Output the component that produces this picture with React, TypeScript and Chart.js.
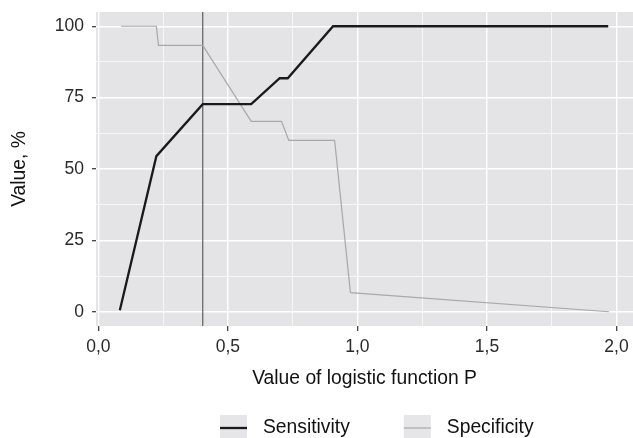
import React, { useEffect, useRef } from 'react';
import { Chart, registerables } from 'chart.js';

Chart.register(...registerables);

// ---- data ----
const sensitivityX = [0.083, 0.224, 0.403, 0.59, 0.7, 0.731, 0.906, 1.968];
const sensitivityY = [0.5, 54.5, 72.7, 72.7, 81.8, 81.8, 100, 100];
const specificityX = [0.088, 0.224, 0.232, 0.403, 0.59, 0.707, 0.735, 0.912, 0.973, 1.971];
const specificityY = [100, 100, 93.3, 93.3, 66.7, 66.7, 60, 60, 6.7, 0];
const cutoffP = 0.403;
const seriesLabels = ['Sensitivity', 'Specificity'];
const xTickLabels = ['0,0', '0,5', '1,0', '1,5', '2,0'];
const yTickLabels = ['0', '25', '50', '75', '100'];
const xTitle = 'Value of logistic function P';
const yTitle = 'Value, %';

const PANEL = '#e4e4e6';
const FONT = "'Liberation Sans', Arial, sans-serif";

const isMultiple = (v: number, step: number) => Math.abs(v / step - Math.round(v / step)) < 1e-6;

export default function App() {
  const ref = useRef<HTMLCanvasElement | null>(null);

  useEffect(() => {
    document.body.style.margin = '0';
    const canvas = ref.current!;
    const panelPlugin = {
      id: 'panel',
      beforeDraw(chart: any) {
        const { ctx, chartArea: a } = chart;
        ctx.save();
        ctx.fillStyle = PANEL;
        ctx.fillRect(a.left, a.top, a.right - a.left, a.bottom - a.top);
        ctx.restore();
      },
      beforeDatasetsDraw(chart: any) {
        const { ctx, chartArea: a, scales } = chart;
        const px = scales.x.getPixelForValue(cutoffP);
        ctx.save();
        ctx.strokeStyle = '#5e5e5e';
        ctx.lineWidth = 1.2;
        ctx.beginPath();
        ctx.moveTo(px, a.top);
        ctx.lineTo(px, a.bottom);
        ctx.stroke();
        ctx.restore();
      },
      afterDraw(chart: any) {
        const ctx = chart.ctx;
        const cy = 428;
        let x = 220;
        ctx.save();
        ctx.font = `19.3px ${FONT}`;
        ctx.textBaseline = 'middle';
        ctx.textAlign = 'left';
        chart.data.datasets.forEach((ds: any) => {
          ctx.fillStyle = '#e6e6e8';
          ctx.fillRect(x, cy - 13, 27, 26);
          ctx.strokeStyle = ds.borderColor;
          ctx.lineWidth = ds.borderWidth;
          ctx.beginPath();
          ctx.moveTo(x, cy);
          ctx.lineTo(x + 27, cy);
          ctx.stroke();
          ctx.fillStyle = '#111';
          ctx.fillText(ds.label, x + 43, cy);
          x += 43 + ctx.measureText(ds.label).width + 54;
        });
        ctx.restore();
      },
    };

    const chart = new Chart(canvas, {
      type: 'line',
      data: {
        datasets: [
          {
            label: seriesLabels[0],
            data: sensitivityX.map((x, i) => ({ x, y: sensitivityY[i] })),
            borderColor: '#1a1a1a',
            borderWidth: 2.3,
            pointRadius: 0,
            tension: 0,
          },
          {
            label: seriesLabels[1],
            data: specificityX.map((x, i) => ({ x, y: specificityY[i] })),
            borderColor: '#a8a8a8',
            borderWidth: 1.2,
            pointRadius: 0,
            tension: 0,
          },
        ],
      },
      options: {
        responsive: false,
        animation: false,
        devicePixelRatio: 1,
        layout: { padding: { top: 12, left: 0, right: 0, bottom: 0 } },
        plugins: { legend: { display: false }, tooltip: { enabled: false } },
        scales: {
          x: {
            type: 'linear',
            min: -0.009,
            max: 2.0636,
            border: { display: false },
            afterFit: (s: any) => {
              s.height = 112;
              s.paddingLeft = 0;
              s.paddingRight = 0;
            },
            grid: {
              color: '#ffffff',
              lineWidth: (c: any) => (isMultiple(c.tick.value, 0.5) ? 1.4 : 0.7),
              tickColor: (c: any) => (isMultiple(c.tick.value, 0.5) ? '#333333' : 'rgba(0,0,0,0)'),
              tickLength: 5,
              tickWidth: 1.2,
            },
            ticks: {
              stepSize: 0.25,
              includeBounds: false,
              autoSkip: false,
              maxRotation: 0,
              padding: 6,
              color: '#2a2a2a',
              font: { family: FONT, size: 17.5 },
              callback: (v: any) => {
                const n = Number(v);
                if (!isMultiple(n, 0.5)) return '';
                return xTickLabels[Math.round(n / 0.5)] ?? '';
              },
            },
            title: {
              display: true,
              text: xTitle,
              color: '#111',
              font: { family: FONT, size: 19.3 },
              padding: { top: 0, bottom: 48 },
            },
          },
          y: {
            type: 'linear',
            min: -5,
            max: 105,
            border: { display: false },
            afterFit: (s: any) => {
              s.width = 96;
              s.paddingTop = 0;
              s.paddingBottom = 0;
            },
            grid: {
              color: '#ffffff',
              lineWidth: (c: any) => (isMultiple(c.tick.value, 25) ? 1.4 : 0.7),
              tickColor: (c: any) => (isMultiple(c.tick.value, 25) ? '#333333' : 'rgba(0,0,0,0)'),
              tickLength: 4,
              tickWidth: 1.2,
            },
            ticks: {
              stepSize: 12.5,
              includeBounds: false,
              autoSkip: false,
              padding: 8,
              color: '#2a2a2a',
              font: { family: FONT, size: 17.5 },
              callback: (v: any) => {
                const n = Number(v);
                if (!isMultiple(n, 25)) return '';
                return yTickLabels[Math.round(n / 25)] ?? '';
              },
            },
            title: {
              display: true,
              text: yTitle,
              color: '#111',
              font: { family: FONT, size: 19.3 },
              padding: { top: 8, bottom: 0 },
            },
          },
        },
      },
      plugins: [panelPlugin],
    } as any);

    return () => chart.destroy();
  }, []);

  return (
    <div style={{ width: 633, height: 438 }}>
      <canvas ref={ref} width={633} height={438} style={{ display: 'block' }} />
    </div>
  );
}
